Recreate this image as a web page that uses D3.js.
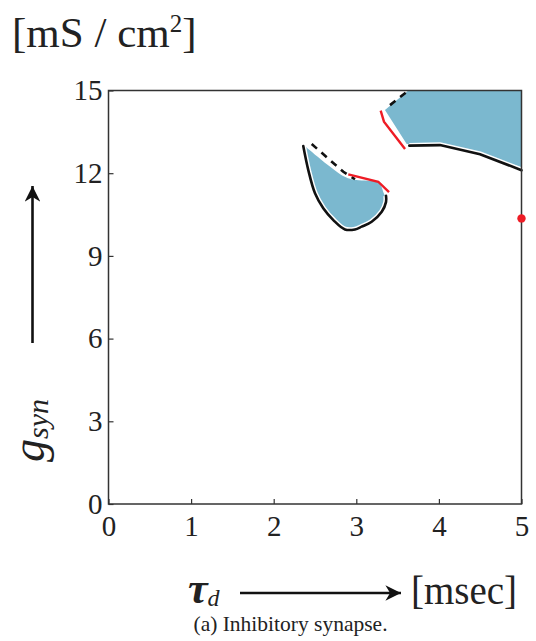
<!DOCTYPE html>
<html>
<head>
<meta charset="utf-8">
<script src="https://cdn.jsdelivr.net/npm/d3@7"></script>
<style>
body { margin: 0; background: #fff; }
text { font-family: "Liberation Serif", "Times New Roman", serif; fill: #222; }
</style>
</head>
<body>
<script>
// axis ticks
var xTicks = [0, 1, 2, 3, 4, 5];
var yTicks = [0, 3, 6, 9, 12, 15];

// left island (tau_d ~2.4-3.4)
var leftFill = [[2.38, 12.98], [2.86, 11.87], [3.0, 11.75], [3.27, 11.65], [3.33, 11.29], [3.36, 11.0],
  [3.31, 10.6], [3.19, 10.24], [3.07, 10.06], [2.98, 9.96], [2.86, 9.96], [2.72, 10.3], [2.6, 10.73],
  [2.5, 11.27], [2.42, 12.11], [2.36, 12.98]];
var leftEdge = [[2.358, 12.985], [2.419, 12.11], [2.5, 11.27], [2.6, 10.73], [2.722, 10.3], [2.863, 9.96],
  [2.984, 9.96], [3.065, 10.06], [3.186, 10.24], [3.308, 10.6], [3.36, 10.96], [3.36, 11.18]];
var leftDash = [[2.46, 13.06], [2.843, 12.05], [2.984, 11.78]];
var leftRed = [[2.903, 11.96], [3.266, 11.69], [3.396, 11.31]];

// right region (upper corner)
var rightFill = [[3.347, 14.29], [3.63, 15], [5, 15], [5, 12.21], [4.498, 12.72], [4.013, 13.06], [3.61, 13.06]];
var rightEdge = [[3.642, 13.0], [4.013, 13.02], [4.498, 12.69], [5, 12.11]];
var rightDash = [[3.408, 14.47], [3.63, 15.0]];
var rightRed = [[3.295, 14.27], [3.335, 13.87], [3.59, 12.88]];

var redDot = [[5, 10.36]];

var W = 536, H = 641;
var pL = 108.5, pR = 521.5, pT = 90.5, pB = 504;

var svg = d3.select("body").append("svg")
    .attr("width", W)
    .attr("height", H);

var x = d3.scaleLinear().domain([0, 5]).range([pL, pR]);
var y = d3.scaleLinear().domain([0, 15]).range([pB, pT]);

var fillCol = "#7bb8cf";
var line = d3.line().x(function (d) { return x(d[0]); }).y(function (d) { return y(d[1]); });
var smooth = d3.line().curve(d3.curveCatmullRom).x(function (d) { return x(d[0]); }).y(function (d) { return y(d[1]); });

// filled regions
svg.append("path").attr("d", smooth(leftFill) + "Z").attr("fill", fillCol);
svg.append("path").attr("d", line(rightFill) + "Z").attr("fill", fillCol);

// solid boundaries with white halo
[[leftEdge, smooth], [rightEdge, line]].forEach(function (p) {
    svg.append("path").attr("d", p[1](p[0])).attr("fill", "none")
        .attr("stroke", "#fff").attr("stroke-width", 5.5);
    svg.append("path").attr("d", p[1](p[0])).attr("fill", "none")
        .attr("stroke", "#111").attr("stroke-width", 2.6).attr("stroke-linecap", "round");
});

// dashed boundaries
[leftDash, rightDash].forEach(function (p) {
    svg.append("path").attr("d", line(p)).attr("fill", "none")
        .attr("stroke", "#111").attr("stroke-width", 2.6).attr("stroke-dasharray", "7,6");
});

// red boundaries
[leftRed, rightRed].forEach(function (p) {
    svg.append("path").attr("d", line(p)).attr("fill", "none")
        .attr("stroke", "#ee1c25").attr("stroke-width", 2.4);
});

// frame
svg.append("rect")
    .attr("x", pL).attr("y", pT)
    .attr("width", pR - pL).attr("height", pB - pT)
    .attr("fill", "none").attr("stroke", "#333").attr("stroke-width", 1.5);

svg.selectAll(".dot").data(redDot).enter().append("circle")
    .attr("cx", function (d) { return x(d[0]); })
    .attr("cy", function (d) { return y(d[1]); })
    .attr("r", 4.2).attr("fill", "#ee1c25");

// axes
var xAxis = svg.append("g").attr("transform", "translate(0," + pB + ")")
    .call(d3.axisBottom(x).tickValues(xTicks).tickFormat(d3.format("d")).tickSizeInner(-5).tickSizeOuter(0).tickPadding(11));
var yAxis = svg.append("g").attr("transform", "translate(" + pL + ",0)")
    .call(d3.axisLeft(y).tickValues(yTicks).tickFormat(d3.format("d")).tickSizeInner(-5).tickSizeOuter(0).tickPadding(6));
[xAxis, yAxis].forEach(function (g) {
    g.select(".domain").remove();
    g.selectAll(".tick line").attr("stroke", "#333").attr("stroke-width", 1.2);
    g.selectAll(".tick text").style("font-family", "'Liberation Serif', serif")
        .style("font-size", "29px").attr("fill", "#222");
});

// units on top
var t = svg.append("text").attr("x", 12).attr("y", 47).style("font-size", "43px");
t.append("tspan").text("[mS / cm");
t.append("tspan").attr("dy", -15).style("font-size", "25px").text("2");
t.append("tspan").attr("dy", 15).text("]");

// y label + arrow
var yl = svg.append("text").attr("transform", "translate(44,462) rotate(-90)");
yl.append("tspan").style("font-size", "46px").style("font-style", "italic").text("g");
yl.append("tspan").attr("dy", 4).style("font-size", "30px").style("font-style", "italic").text("syn");

svg.append("defs").append("marker")
    .attr("id", "arr").attr("viewBox", "0 0 10 10").attr("refX", 10).attr("refY", 5)
    .attr("markerWidth", 6).attr("markerHeight", 6).attr("markerUnits", "strokeWidth")
    .attr("orient", "auto")
    .append("path").attr("d", "M0,0 L10,5 L0,10 L3,5 Z").attr("fill", "#111");

svg.append("line").attr("x1", 32.5).attr("x2", 32.5).attr("y1", 343).attr("y2", 186)
    .attr("stroke", "#111").attr("stroke-width", 2.6).attr("marker-end", "url(#arr)");

// x label + arrow
var xl = svg.append("text").attr("x", 188).attr("y", 603);
xl.append("tspan").style("font-size", "44px").style("font-style", "italic").style("font-weight", "bold").text("τ");
xl.append("tspan").attr("dy", 3).style("font-size", "24px").style("font-style", "italic").text("d");

svg.append("line").attr("x1", 240).attr("x2", 401).attr("y1", 593).attr("y2", 593)
    .attr("stroke", "#111").attr("stroke-width", 2.6).attr("marker-end", "url(#arr)");

svg.append("text").attr("x", 411).attr("y", 604).style("font-size", "39px").text("[msec]");

// caption
svg.append("text").attr("x", 290.5).attr("y", 631).attr("text-anchor", "middle")
    .style("font-size", "21.5px").text("(a) Inhibitory synapse.");
</script>
</body>
</html>
